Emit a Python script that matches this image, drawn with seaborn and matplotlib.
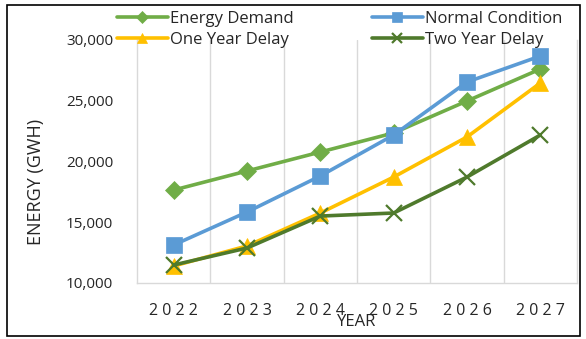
import matplotlib
matplotlib.use("Agg")
import matplotlib.pyplot as plt
from matplotlib.patches import Rectangle
import seaborn as sns
import pandas as pd

years = [2022, 2023, 2024, 2025, 2026, 2027]
energy_demand = [17650, 19220, 20780, 22350, 24980, 27610]
normal_condition = [13130, 15840, 18810, 22180, 26540, 28680]
one_year_delay = [11400, 13050, 15760, 18720, 22020, 26460]
two_year_delay = [11480, 12880, 15510, 15760, 18720, 22180]

series_names = ["Energy Demand", "Normal Condition", "One Year Delay", "Two Year Delay"]
series_values = [energy_demand, normal_condition, one_year_delay, two_year_delay]
colors = ["#70AD47", "#5B9BD5", "#FFC000", "#4F7A2C"]
markers = ["D", "s", "^", "x"]
marker_sizes = [9, 11, 11, 11]

y_ticks = [10000, 15000, 20000, 25000, 30000]

rows = []
for name, vals in zip(series_names, series_values):
    for i, (yr, v) in enumerate(zip(years, vals)):
        rows.append({"pos": i, "year": yr, "value": v, "series": name})
df = pd.DataFrame(rows)

sns.set_style("white")
plt.rcParams["font.family"] = ["Open Sans", "DejaVu Sans"]

W, H = 586, 339
fig = plt.figure(figsize=(W / 100, H / 100), dpi=100)
ax = fig.add_axes([137 / W, 1 - 283 / H, 440 / W, 243 / H])

for name, col, mk, ms in zip(series_names, colors, markers, marker_sizes):
    sub = df[df["series"] == name]
    sns.lineplot(data=sub, x="pos", y="value", ax=ax, color=col, marker=mk,
                 markersize=ms, linewidth=2.6, label=name,
                 markeredgecolor=col, markeredgewidth=1.6 if mk == "x" else 0.5)

ax.set_xlim(-0.5, len(years) - 0.5)
ax.set_ylim(10000, 30000)
ax.set_yticks(y_ticks)
ax.set_yticklabels([f"{t:,}" for t in y_ticks], fontsize=11)
ax.set_xticks(range(len(years)))
ax.set_xticklabels([" ".join(str(y)) for y in years], fontsize=11.5)
ax.tick_params(axis="x", length=0, pad=14.5)
ax.tick_params(axis="y", length=0, pad=17)

# vertical gridlines on the category boundaries
for b in [i + 0.5 for i in range(len(years) - 1)]:
    ax.axvline(b, color="#D9D9D9", linewidth=1.0, zorder=0)
ax.grid(False)

for side in ["left", "right", "bottom"]:
    ax.spines[side].set_color("#D9D9D9")
    ax.spines[side].set_linewidth(1.0)
ax.spines["top"].set_visible(False)

ax.set_xlabel("YEAR", fontsize=12)
ax.xaxis.label.set_va("center")
ax.xaxis.set_label_coords(0.5, (283 - 322) / 243)
ax.set_ylabel("ENERGY (GWH)", fontsize=13)
ax.yaxis.label.set_va("center")
ax.yaxis.set_label_coords((36 - 137) / 440, (283 - 182) / 243)

# two-column legend laid out row by row above the plot area
handles, labels = ax.get_legend_handles_labels()
ax.get_legend().remove()
leg_kw = dict(loc="upper left", frameon=False, fontsize=12, handlelength=3.05,
              handletextpad=0.15, labelspacing=0.28, borderpad=0,
              borderaxespad=0, markerscale=0.7, bbox_transform=fig.transFigure)
leg1 = fig.legend([handles[0], handles[2]], [labels[0], labels[2]],
                  bbox_to_anchor=(117 / W, 1 - 11 / H), **leg_kw)
leg2 = fig.legend([handles[1], handles[3]], [labels[1], labels[3]],
                  bbox_to_anchor=(372 / W, 1 - 11 / H), **leg_kw)

fig.patches.append(Rectangle((7 / W, 1 - 336 / H), 573 / W, 331 / H,
                             transform=fig.transFigure, fill=False,
                             edgecolor="black", linewidth=1.2))

fig.savefig("out.png", dpi=100)
